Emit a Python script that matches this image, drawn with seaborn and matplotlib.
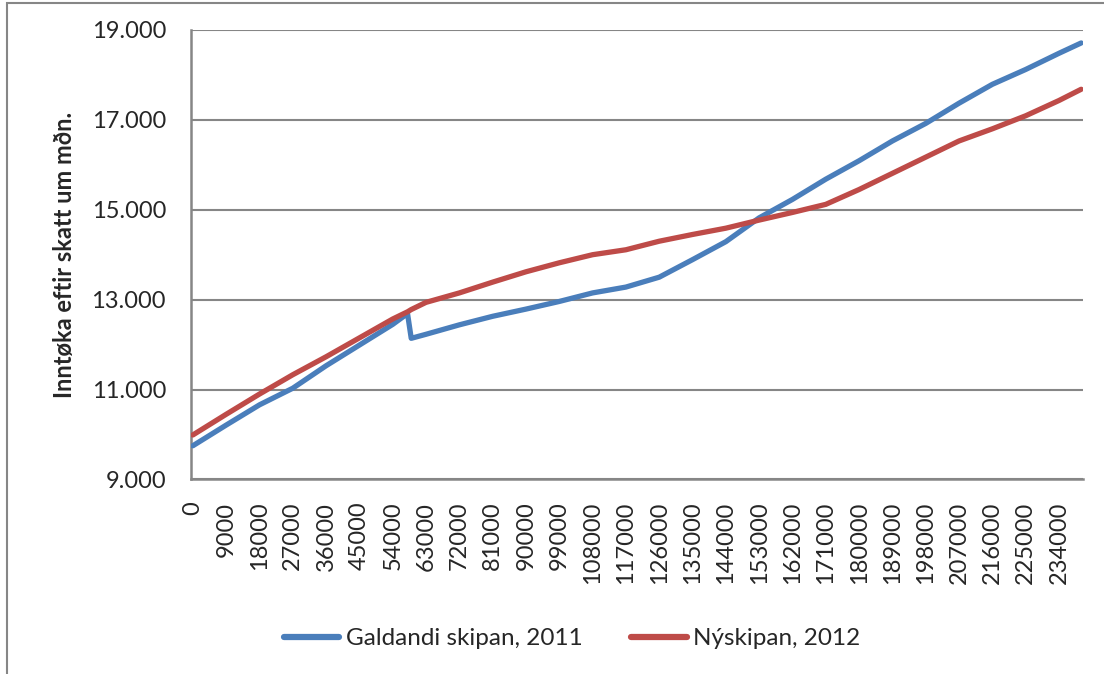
"""
Inntøka eftir skatt - galdandi skipan 2011 vs nýskipan 2012
"""

import matplotlib
matplotlib.use("Agg")
import matplotlib.pyplot as plt
from matplotlib.lines import Line2D
from matplotlib.patches import Rectangle
import pandas as pd
import seaborn as sns

# income (x) and monthly income after tax
income = [0, 9000, 18000, 27000, 36000, 45000, 54000, 58000, 59000, 63000,
          72000, 81000, 90000, 99000, 108000, 117000, 126000, 135000, 144000,
          153000, 162000, 171000, 180000, 189000, 198000, 207000, 216000,
          225000, 234000, 240000]
galdandi_2011 = [9750, 10210, 10660, 11030, 11530, 11990, 12450, 12690, 12140,
                 12230, 12440, 12630, 12790, 12960, 13150, 13280, 13500, 13890,
                 14290, 14820, 15230, 15680, 16090, 16530, 16920, 17370, 17790,
                 18120, 18480, 18710]
nyskipan_2012 = [9990, 10450, 10900, 11330, 11730, 12150, 12570, 12730, 12780,
                 12940, 13150, 13390, 13620, 13820, 14000, 14110, 14300, 14450,
                 14590, 14770, 14940, 15120, 15450, 15810, 16170, 16530, 16800,
                 17090, 17430, 17680]

series_names = ["Galdandi skipan, 2011", "Nýskipan, 2012"]
colors = ["#4A7EBB", "#BE4B48"]

x_ticks = list(range(0, 234001, 9000))
y_ticks = [9000, 11000, 13000, 15000, 17000, 19000]
y_tick_labels = ["9.000", "11.000", "13.000", "15.000", "17.000", "19.000"]
y_title = "Inntøka eftir skatt um mðn."


def build_frame() -> pd.DataFrame:
    a = pd.DataFrame({"income": income, "value": galdandi_2011, "series": series_names[0]})
    b = pd.DataFrame({"income": income, "value": nyskipan_2012, "series": series_names[1]})
    return pd.concat([a, b], ignore_index=True)


def main():
    sns.set_style("white")
    plt.rcParams["font.family"] = ["Lato", "DejaVu Sans"]

    df = build_frame()
    fig = plt.figure(figsize=(11.04, 6.74), dpi=100)
    ax = fig.add_axes([0.173, 0.2886, 0.808, 0.667])

    sns.lineplot(data=df, x="income", y="value", hue="series",
                 palette=dict(zip(series_names, colors)), linewidth=3.8,
                 errorbar=None, ax=ax, legend=False, zorder=3)

    ax.set_xlim(-500, 240500)
    ax.set_ylim(9000, 19000)
    ax.set_yticks(y_ticks)
    ax.set_yticklabels(y_tick_labels, fontsize=17)
    ax.set_xticks(x_ticks)
    ax.set_xticklabels([str(t) for t in x_ticks], rotation=90, fontsize=17)
    ax.tick_params(axis="both", length=0)
    ax.tick_params(axis="y", pad=18)
    ax.tick_params(axis="x", pad=16)
    ax.set_xlabel("")
    ax.set_ylabel(y_title, fontsize=17, fontweight="bold", labelpad=11)

    ax.yaxis.grid(True, color="#868686", linewidth=1.5)
    ax.xaxis.grid(False)
    for side in ["top", "right"]:
        ax.spines[side].set_visible(False)
    for side in ["left", "bottom"]:
        ax.spines[side].set_color("#868686")
        ax.spines[side].set_linewidth(1.8)

    handles = [Line2D([], [], color=c, linewidth=4.5) for c in colors]
    fig.legend(handles, series_names, loc="center", bbox_to_anchor=(0.518, 0.052),
               ncol=2, frameon=False, fontsize=17.5, handlelength=2.3,
               columnspacing=2.0, handletextpad=0.25)

    # chart area border (left/top edges visible)
    fig.add_artist(Rectangle((7 / 1104, -0.1), 1.2, (674 - 3) / 674 + 0.1,
                             transform=fig.transFigure, fill=False,
                             edgecolor="#868686", linewidth=1.5))

    fig.savefig("out.png", dpi=100)


if __name__ == "__main__":
    main()
